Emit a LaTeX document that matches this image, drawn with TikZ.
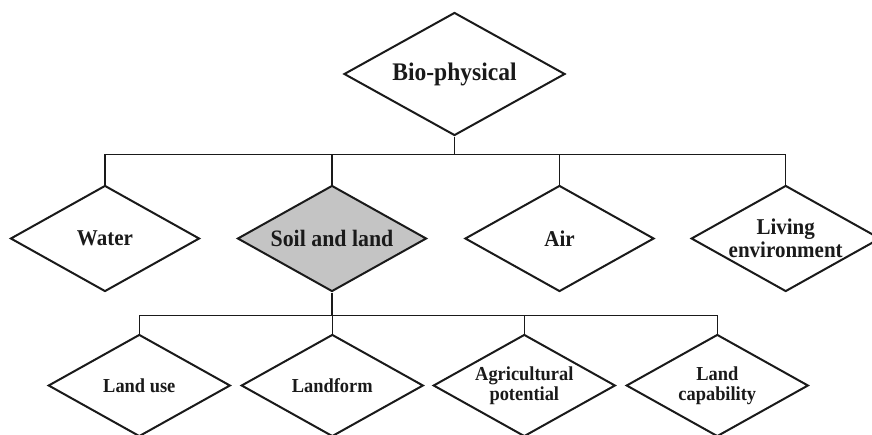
\documentclass[tikz,border=0pt]{standalone}
\usepackage{fontspec}
\setmainfont{Liberation Serif}
\newfontfamily\labelfont[FakeStretch=0.93]{Liberation Serif}
\usetikzlibrary{shapes.geometric}
\definecolor{ink}{HTML}{1A1A1A}
\definecolor{soilfill}{HTML}{C4C4C4}
\tikzset{
  dia/.style={diamond, draw=ink, line width=2pt, inner sep=0pt, aspect=1.8},
  topdia/.style={dia, minimum width=221pt, minimum height=123pt},
  middia/.style={dia, minimum width=189pt, minimum height=106pt},
  lowdia/.style={dia, minimum width=182pt, minimum height=102pt},
  toptxt/.style={text=ink, align=center, font=\labelfont\bfseries\fontsize{25.3}{28}\selectfont},
  midtxt/.style={text=ink, align=center, font=\labelfont\bfseries\fontsize{22.6}{23}\selectfont},
  lowtxt/.style={text=ink, align=center, font=\labelfont\bfseries\fontsize{19.8}{20}\selectfont},
  link/.style={draw=ink, line width=1.5pt}
}
\begin{document}
\begin{tikzpicture}[x=1pt, y=-1pt]
\useasboundingbox (0,0) rectangle (872,434);
\clip (0,0) rectangle (872,434);
\fill[white] (0,0) rectangle (872,434);

% levels of the hierarchy
\node[topdia] (bio) at (454.5,74) {};
\node[toptxt] at (bio) {Bio-physical};

\node[middia] (water) at (105,238.5) {};
\node[middia, fill=soilfill] (soil) at (332,238.5) {};
\node[middia] (air) at (559.5,238.5) {};
\node[middia] (living) at (785.7,238.5) {};
\node[midtxt] at (water) {Water};
\node[midtxt, font=\labelfont\bfseries\fontsize{23.5}{24}\selectfont] at (soil) {Soil and land};
\node[midtxt] at (air) {Air};
\node[midtxt] at (living) {Living\\environment};

\node[lowdia] (landuse) at (139.3,385.5) {};
\node[lowdia] (landform) at (332.3,385.5) {};
\node[lowdia] (agri) at (524.3,385.5) {};
\node[lowdia] (capab) at (717.3,385.5) {};
\node[lowtxt] at (landuse) {Land use};
\node[lowtxt] at (landform) {Landform};
\node[lowtxt] at (agri) {Agricultural\\potential};
\node[lowtxt] at (capab) {Land\\capability};

% bus lines
\coordinate (busA) at (0,154.5);
\coordinate (busB) at (0,315.7);

\draw[link] (bio.south) -- (bio.south |- busA);
\draw[link] (water.north) -- (water.north |- busA) -- (living.north |- busA) -- (living.north);
\draw[link] (soil.north) -- (soil.north |- busA);
\draw[link] (air.north) -- (air.north |- busA);

\draw[link] (soil.south) -- (soil.south |- busB);
\draw[link] (landuse.north) -- (landuse.north |- busB) -- (capab.north |- busB) -- (capab.north);
\draw[link] (landform.north) -- (landform.north |- busB);
\draw[link] (agri.north) -- (agri.north |- busB);
\end{tikzpicture}
\end{document}
